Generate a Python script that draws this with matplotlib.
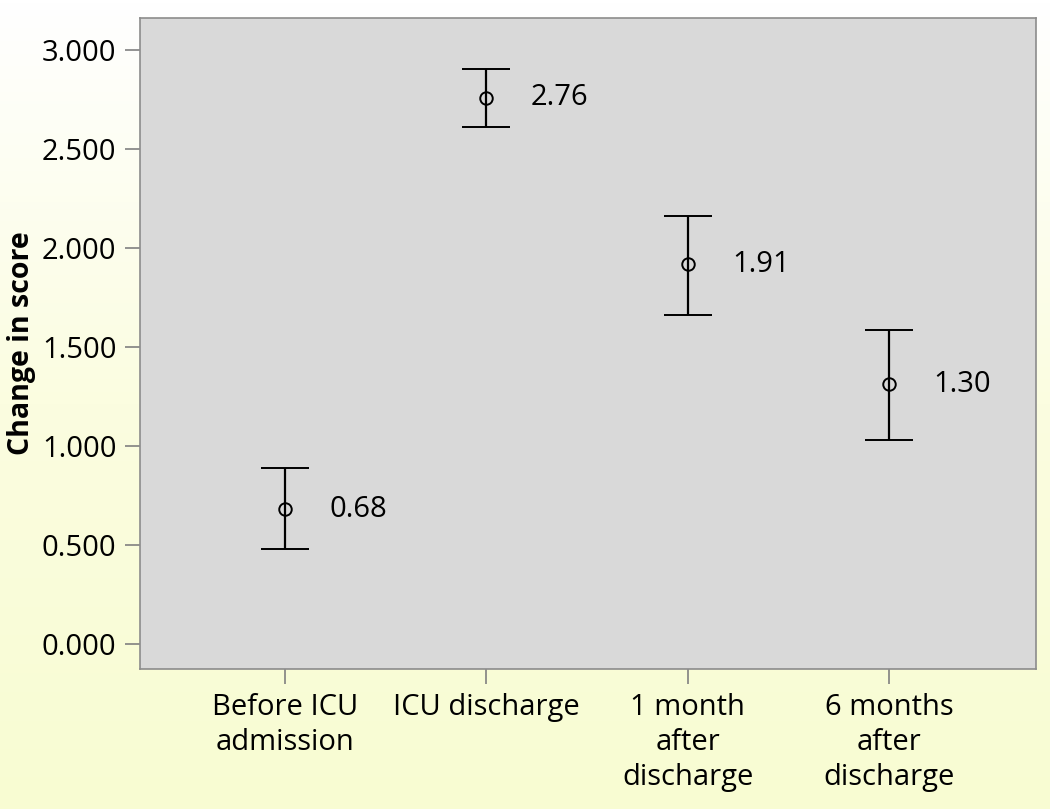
import matplotlib
matplotlib.use("Agg")
import matplotlib.pyplot as plt
import numpy as np
from matplotlib.colors import LinearSegmentedColormap

# categorias y valores
categorias = ["Before ICU\nadmission", "ICU discharge", "1 month\nafter\ndischarge", "6 months\nafter\ndischarge"]
medias = [0.682, 2.758, 1.918, 1.312]
superior = [0.889, 2.904, 2.162, 1.586]
inferior = [0.480, 2.611, 1.662, 1.030]
etiquetas = ["0.68", "2.76", "1.91", "1.30"]
yticks = [0.0, 0.5, 1.0, 1.5, 2.0, 2.5, 3.0]

plt.rcParams['font.family'] = ['Open Sans', 'DejaVu Sans']

fig = plt.figure(figsize=(10.5, 8.09), dpi=100)

# fondo degradado blanco -> amarillo claro
fondo = fig.add_axes([0, 0, 1, 1], zorder=-10)
cmap = LinearSegmentedColormap.from_list("fondo", ["#ffffff", "#fbfde0", "#f8fcd2"])
grad = np.linspace(0, 1, 256).reshape(-1, 1)
fondo.imshow(grad, aspect="auto", cmap=cmap, extent=[0, 1, 0, 1], origin="upper")
fondo.axis("off")

ax = fig.add_axes([0.1333, 0.173, 0.8534, 0.805])
ax.set_facecolor("#d9d9d9")

x = np.arange(len(categorias))
medias = np.array(medias)
err = [medias - np.array(inferior), np.array(superior) - medias]
ax.errorbar(x, medias, yerr=err, fmt="o", mfc="none", mec="black", ms=9,
            mew=1.4, ecolor="black", elinewidth=1.6, capsize=17, capthick=1.6,
            color="black")

for xi, m, t in zip(x, medias, etiquetas):
    ax.annotate(t, (xi, m), xytext=(32, 0), textcoords="offset points",
                va="center", ha="left", fontsize=21)

ax.set_xlim(-0.72, 3.73)
ax.set_ylim(-0.126, 3.162)
ax.set_xticks(x)
ax.set_xticklabels(categorias, fontsize=21, linespacing=1.28)
ax.set_yticks(yticks)
ax.set_yticklabels([f"{v:.3f}" for v in yticks], fontsize=21)
ax.tick_params(axis="both", color="#808080", length=11, width=1.2, pad=6)
for s in ax.spines.values():
    s.set_color("#8c8c8c")
    s.set_linewidth(1.2)

ax.set_ylabel("Change in score", fontsize=20.5, fontweight="bold", labelpad=4)

fig.savefig("out.png", dpi=100)
